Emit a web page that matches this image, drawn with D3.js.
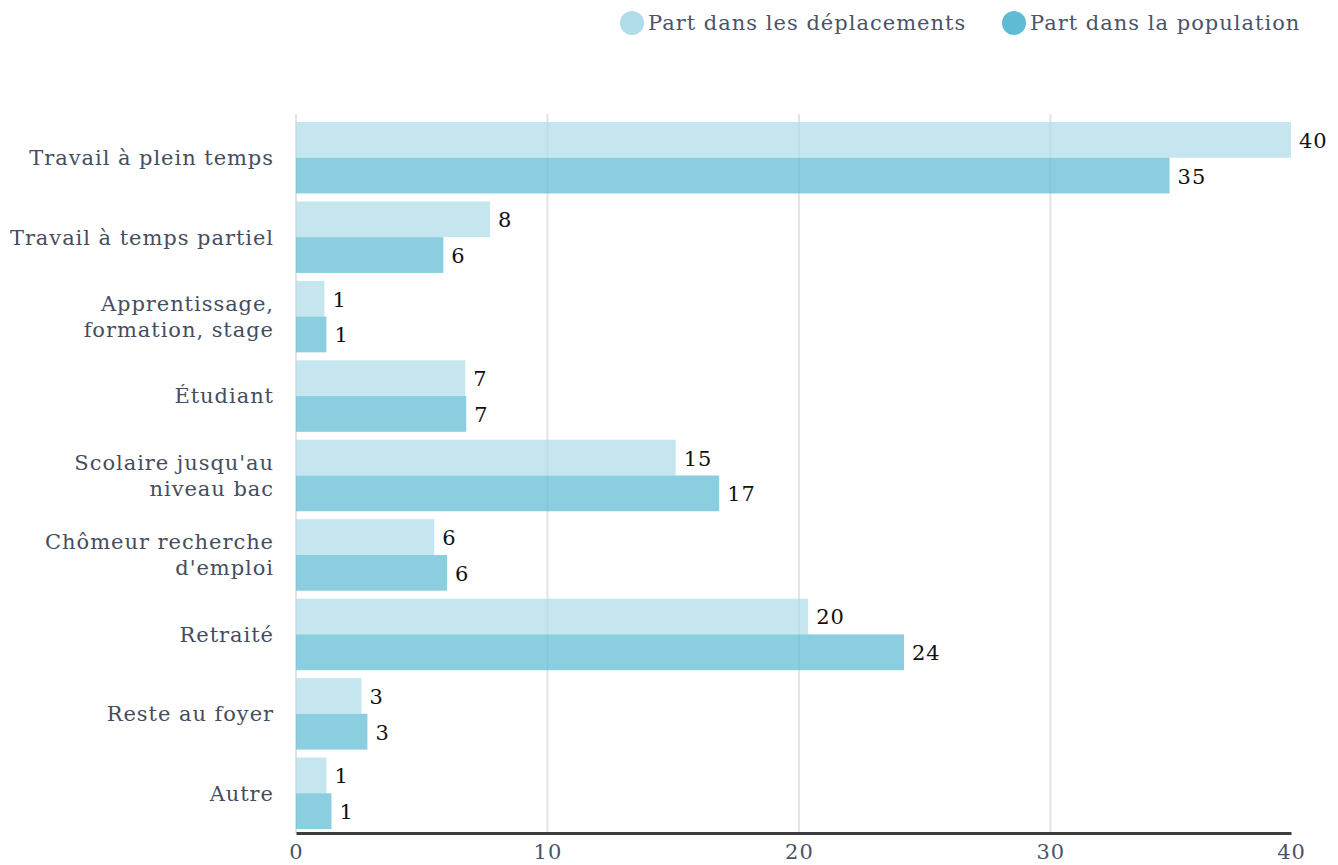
<!DOCTYPE html>
<html><head><meta charset="utf-8">
<script src="https://cdn.jsdelivr.net/npm/d3@7"></script>
<style>body{margin:0;background:#fff}svg{display:block}</style>
</head><body><svg id="c" width="1338" height="865"></svg>
<script>
const categories = [
  ["Travail à plein temps"],
  ["Travail à temps partiel"],
  ["Apprentissage,", "formation, stage"],
  ["Étudiant"],
  ["Scolaire jusqu'au", "niveau bac"],
  ["Chômeur recherche", "d'emploi"],
  ["Retraité"],
  ["Reste au foyer"],
  ["Autre"]
];
const seriesNames = ["Part dans les déplacements", "Part dans la population"];
const deplacements = [39.57, 7.72, 1.13, 6.73, 15.1, 5.5, 20.37, 2.6, 1.21];
const population   = [34.74, 5.86, 1.21, 6.77, 16.83, 6.01, 24.18, 2.84, 1.41];
const tickValues = [0, 10, 20, 30, 39.57];
const colors = ["#b0dde9", "#5fbcd3"];

const svg = d3.select("#c");
const font = "'DejaVu Serif', serif";
const x = d3.scaleLinear().domain([0, d3.max(deplacements)]).range([296, 1291]);
const y = d3.scaleBand().domain(d3.range(categories.length)).range([118, 833]).paddingInner(0.1).paddingOuter(0.05);
const y1 = d3.scaleBand().domain([0, 1]).range([0, y.bandwidth()]);

// gridlines
svg.append("g").selectAll("line").data(tickValues.slice(1, 4)).join("line")
  .attr("x1", d => x(d)).attr("x2", d => x(d)).attr("y1", 114).attr("y2", 833)
  .attr("stroke", "#e3e3e3").attr("stroke-width", 2);
// left axis line
svg.append("line").attr("x1", 296).attr("x2", 296).attr("y1", 114).attr("y2", 833)
  .attr("stroke", "#e3e3e3").attr("stroke-width", 2);

const series = [deplacements, population];
series.forEach((vals, si) => {
  const g = svg.append("g");
  g.selectAll("rect").data(vals).join("rect")
    .attr("x", x(0)).attr("y", (d, i) => y(i) + y1(si))
    .attr("width", d => x(d) - x(0)).attr("height", y1.bandwidth())
    .attr("fill", colors[si]).attr("fill-opacity", 0.73);
  g.selectAll("text").data(vals).join("text")
    .attr("x", d => x(d) + 8).attr("y", (d, i) => y(i) + y1(si) + y1.bandwidth() / 2)
    .attr("dy", "0.38em").attr("font-family", font).attr("font-size", 21).attr("letter-spacing", 1).attr("fill", "#111")
    .text(d => d3.format(".0f")(d));
});

// bottom axis
const xAxis = d3.axisBottom(x).tickValues(tickValues).tickSize(0).tickPadding(11).tickFormat(d => d3.format(".0f")(d));
const ax = svg.append("g").attr("transform", "translate(0,833)").call(xAxis);
ax.select(".domain").attr("stroke", "#3d3d3d").attr("stroke-width", 3);
ax.selectAll("text").attr("font-family", font).attr("font-size", 21).attr("letter-spacing", 1).attr("fill", "#4a5468");

// category labels
const cl = svg.append("g").selectAll("text").data(categories).join("text")
  .attr("text-anchor", "end").attr("font-family", font).attr("font-size", 21).attr("letter-spacing", 0.95).attr("fill", "#454d5f")
  .attr("transform", (d, i) => `translate(274,${y(i) + y.bandwidth() / 2})`);
cl.each(function(lines) {
  const t = d3.select(this);
  const lh = 26;
  lines.forEach((l, k) => {
    t.append("tspan").attr("x", 0).attr("y", (k - (lines.length - 1) / 2) * lh).attr("dy", "0.35em").text(l);
  });
});

// legend
const legX = [632, 1014];
seriesNames.forEach((n, i) => {
  svg.append("circle").attr("cx", legX[i]).attr("cy", 23).attr("r", 12).attr("fill", colors[i]);
  svg.append("text").attr("x", legX[i] + 16).attr("y", 23).attr("dy", "0.35em")
    .attr("font-family", font).attr("font-size", 21).attr("letter-spacing", 1).attr("fill", "#4a5468").text(n);
});
</script></body></html>
